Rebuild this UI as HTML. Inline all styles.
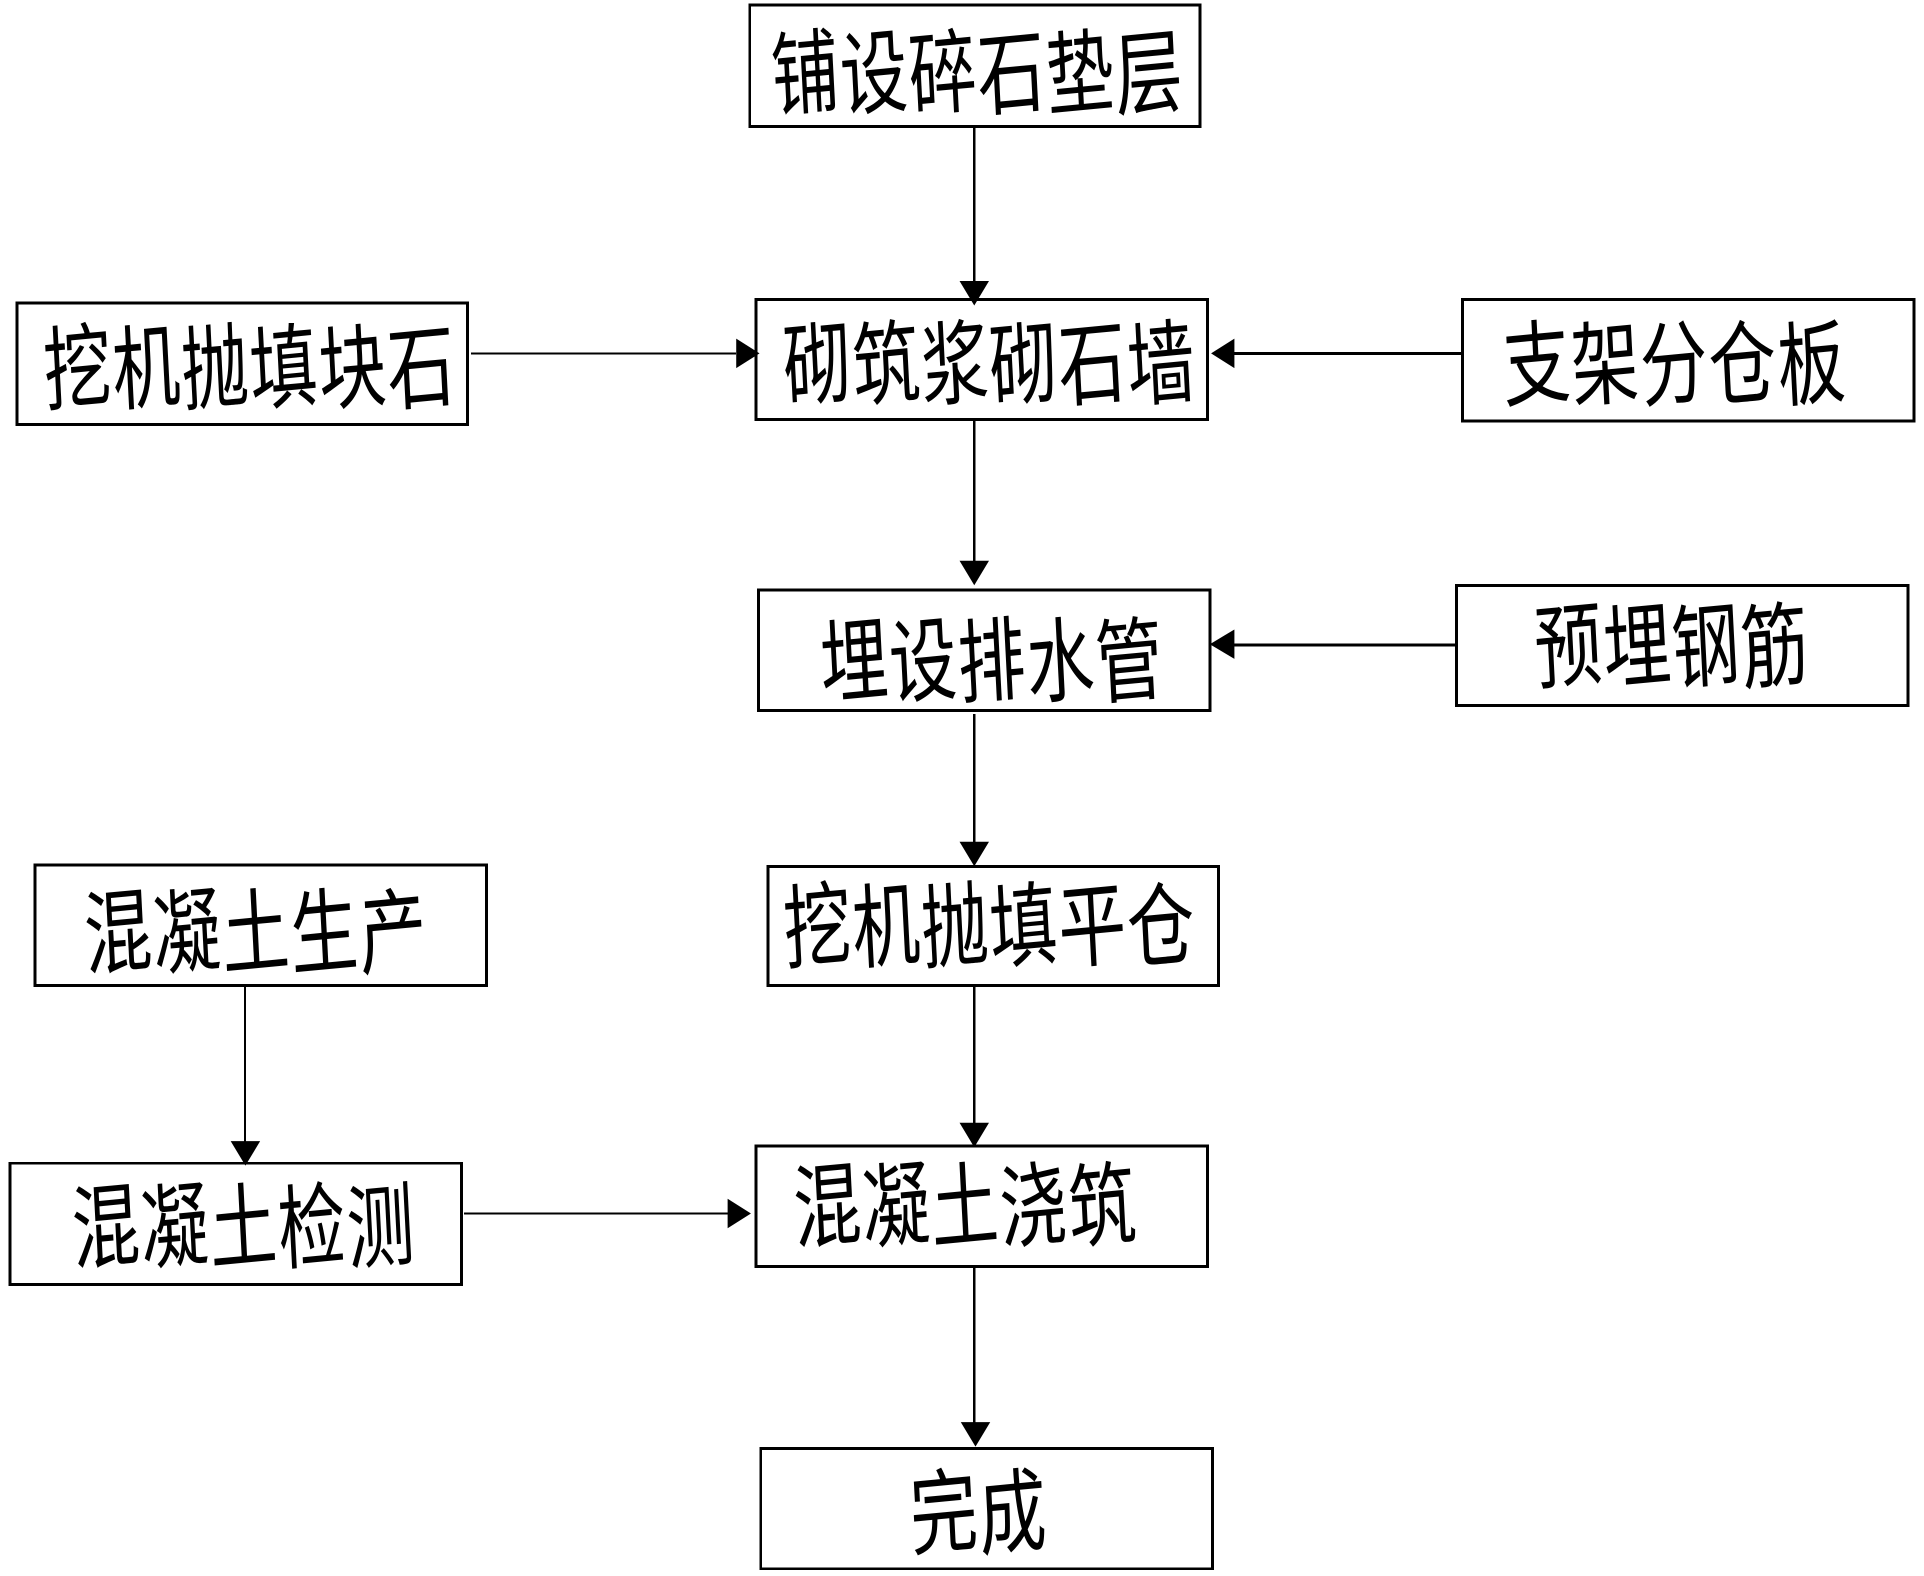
<!DOCTYPE html>
<html lang="zh">
<head>
<meta charset="utf-8">
<title>施工流程图</title>
<style>
html,body{margin:0;padding:0;background:#fff;width:1924px;height:1576px;overflow:hidden}
svg{display:block}
text{font-family:"Liberation Sans","Noto Sans CJK SC",sans-serif;font-size:55px;fill:#000}
rect{fill:none;stroke:#000;stroke-width:2.4}
line{stroke:#000;stroke-width:2.4}
polygon{fill:#000}
</style>
</head>
<body>
<svg xmlns="http://www.w3.org/2000/svg" width="1924" height="1576" viewBox="0 0 1568 1284.4" shape-rendering="crispEdges">
<rect x="611" y="4" width="367" height="99"/>
<rect x="616" y="244" width="368" height="98"/>
<rect x="14" y="247" width="367" height="99"/>
<rect x="1192" y="244" width="368" height="99"/>
<rect x="618" y="481" width="368" height="98"/>
<rect x="1187" y="477" width="368" height="98"/>
<rect x="28.5" y="705" width="368" height="98"/>
<rect x="626" y="706" width="367" height="97"/>
<rect x="8" y="948" width="368" height="99"/>
<rect x="616" y="934" width="368" height="98"/>
<rect x="620" y="1180.5" width="368" height="98"/>

<line x1="794" y1="103" x2="794" y2="232"/>
<line x1="794" y1="342" x2="794" y2="458"/>
<line x1="794" y1="582" x2="794" y2="687"/>
<line x1="794" y1="803" x2="794" y2="916"/>
<line x1="794" y1="1032" x2="794" y2="1160"/>
<line x1="199.6" y1="803" x2="199.6" y2="932" style="stroke-width:1.6"/>
<line x1="384" y1="288" x2="600" y2="288" style="stroke-width:1.6"/>
<line x1="1192" y1="288" x2="1005" y2="288"/>
<line x1="1187" y1="525.5" x2="1005" y2="525.5"/>
<line x1="378" y1="989" x2="594" y2="989" style="stroke-width:1.6"/>

<g shape-rendering="auto">
<polygon points="782,229 806,229 794,249"/>
<polygon points="782,457 806,457 794,477"/>
<polygon points="782,686 806,686 794,706"/>
<polygon points="782,915 806,915 794,935"/>
<polygon points="783,1159 807,1159 795,1179"/>
<polygon points="188,930 212,930 200,950"/>
<polygon points="600,276 600,300 619,288"/>
<polygon points="1006,276 1006,300 987,288"/>
<polygon points="1006,513 1006,537 986,525"/>
<polygon points="593,977 593,1001 612,989"/>

<g transform="translate(630,89) scale(1,1.36)"><text x="0 56 112 168 224 280" rotate="-4">铺设碎石垫层</text></g>
<g transform="translate(640,326) scale(1,1.36)"><text x="0 56 112 168 224 280" rotate="-4">砌筑浆砌石墙</text></g>
<g transform="translate(37,329) scale(1,1.36)"><text x="0 56 112 168 224 280" rotate="-4">挖机抛填块石</text></g>
<g transform="translate(1226,326) scale(1,1.36)"><text x="0 56 112 168 224" rotate="-4">支架分仓板</text></g>
<g transform="translate(670,568) scale(1,1.36)"><text x="0 56 112 168 224" rotate="-4">埋设排水管</text></g>
<g transform="translate(1252,556) scale(1,1.36)"><text x="0 56 112 168" rotate="-4">预埋钢筋</text></g>
<g transform="translate(70,789) scale(1,1.36)"><text x="0 56 112 168 224" rotate="-4">混凝土生产</text></g>
<g transform="translate(640,784) scale(1,1.36)"><text x="0 56 112 168 224 280" rotate="-4">挖机抛填平仓</text></g>
<g transform="translate(60,1029) scale(1,1.36)"><text x="0 56 112 168 224" rotate="-4">混凝土检测</text></g>
<g transform="translate(648,1012) scale(1,1.36)"><text x="0 56 112 168 224" rotate="-4">混凝土浇筑</text></g>
<g transform="translate(743,1262) scale(1,1.36)"><text x="0 56" rotate="-4">完成</text></g>
</g>
</svg>
</body>
</html>
